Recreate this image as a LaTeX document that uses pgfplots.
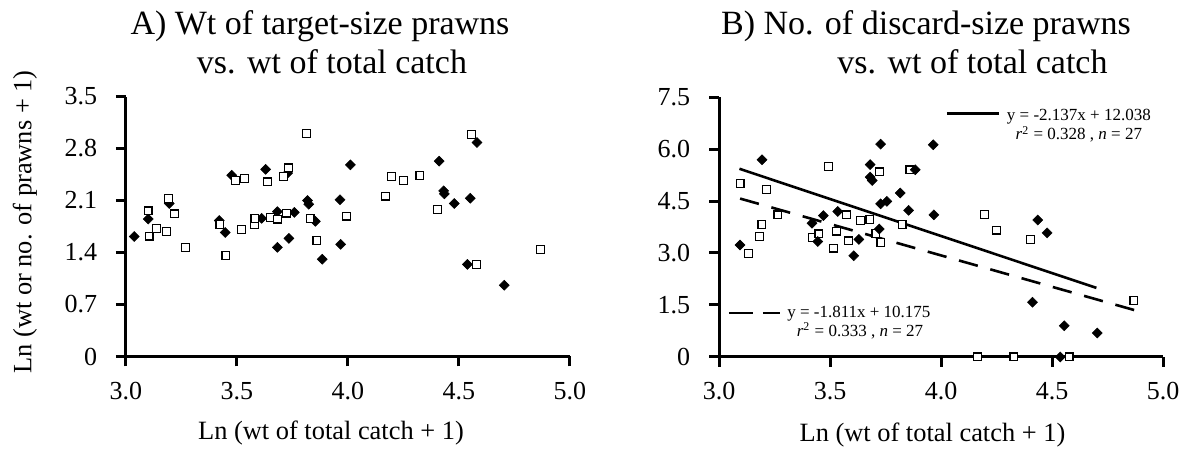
\documentclass[border=0pt]{standalone}
\usepackage{fontspec}
\setmainfont{Liberation Serif}
\usepackage{pgfplots}
\usepackage{pgfplotstable}
\pgfplotsset{compat=1.18}

% A) weight of target-size prawns vs. ln(total catch + 1)
\pgfplotstableread{
x y
3.037 1.615
3.100 1.85
3.195 2.06
3.420 1.83
3.447 1.67
3.476 2.44
3.611 1.86
3.629 2.52
3.682 1.95
3.682 1.47
3.728 2.47
3.734 1.59
3.758 1.94
3.818 2.10
3.823 2.05
3.853 1.82
3.884 1.31
3.964 2.11
3.967 1.51
4.011 2.58
4.411 2.63
4.431 2.23
4.434 2.19
4.479 2.06
4.538 1.24
4.551 2.13
4.581 2.88
4.704 0.96
}\Adiamond
\pgfplotstableread{
x y
3.100 1.96
3.104 1.62
3.138 1.72
3.183 1.68
3.192 2.13
3.218 1.92
3.267 1.47
3.423 1.78
3.450 1.36
3.492 2.37
3.521 1.71
3.533 2.40
3.578 1.78
3.581 1.86
3.637 2.35
3.650 1.87
3.683 1.85
3.710 2.42
3.724 1.93
3.731 2.54
3.814 3.00
3.829 1.86
3.860 1.56
3.994 1.89
4.170 2.16
4.197 2.42
4.249 2.37
4.324 2.44
4.402 1.98
4.557 2.99
4.578 1.24
4.866 1.44
}\Asquare

% B) number of discard-size prawns vs. ln(total catch + 1)
\pgfplotstableread{
x y
3.095 3.23
3.194 5.69
3.419 3.86
3.445 3.33
3.470 4.08
3.535 4.20
3.607 2.92
3.630 3.39
3.681 5.55
3.681 5.19
3.690 5.09
3.722 3.69
3.728 6.14
3.728 4.42
3.756 4.49
3.816 4.73
3.854 4.23
3.884 5.40
3.965 6.12
3.968 4.10
4.412 1.58
4.436 3.95
4.478 3.58
4.537 0.00
4.555 0.90
4.704 0.69
}\Bdiamond
\pgfplotstableread{
x y
3.095 5.01
3.134 2.98
3.182 3.47
3.193 3.83
3.215 4.83
3.265 4.10
3.421 3.45
3.450 3.55
3.492 5.49
3.517 3.14
3.529 3.63
3.574 4.10
3.582 3.35
3.637 3.94
3.680 3.96
3.707 3.56
3.722 5.34
3.729 3.31
3.825 3.82
3.860 5.40
4.165 0.00
4.197 4.11
4.249 3.66
4.328 0.00
4.403 3.39
4.577 0.00
4.869 1.63
}\Bsquare

\pgfplotsset{
  prawnaxis/.style={
    scale only axis, width=222pt, height=130pt,
    xmin=3, xmax=5, ymin=0,
    axis x line=bottom, axis y line=left,
    axis line style={-, line width=1.5pt},
    every tick/.style={black, line width=1.5pt},
    tick align=outside, major tick length=5pt,
    xtick={3,3.5,4,4.5,5}, xticklabels={3.0,3.5,4.0,4.5,5.0},
    ticklabel style={font=\fontsize{13}{15}\selectfont, inner sep=0pt},
    xticklabel style={anchor=base, yshift=-16.5pt},
    yticklabel style={anchor=east, xshift=-9.25pt},
    clip=false,
  },
  dmark/.style={only marks, mark=square*, mark size=1.75pt,
    mark options={rotate=45, fill=black, draw=black, line width=0.3pt}},
  smark/.style={only marks, mark=square*, mark size=1.95pt,
    mark options={fill=white, draw=black, line width=0.6pt}},
}

\begin{document}
\begin{tikzpicture}
\path[use as bounding box] (-63pt,-51.25pt) rectangle (531.5pt,178.25pt);

\begin{axis}[prawnaxis, at={(0pt,0pt)}, anchor=south west,
    ymax=3.5, ytick={0,0.7,1.4,2.1,2.8,3.5},
    yticklabels={0,0.7,1.4,2.1,2.8,3.5}]
  \addplot[dmark] table {\Adiamond};
  \addplot[smark] table {\Asquare};
\end{axis}

\begin{axis}[prawnaxis, at={(296.5pt,-0.25pt)}, anchor=south west,
    ymax=7.5, ytick={0,1.5,3,4.5,6,7.5},
    yticklabels={0,1.5,3.0,4.5,6.0,7.5}]
  \addplot[smark] table {\Bsquare};
  \addplot[dmark] table {\Bdiamond};
  % fitted lines: y = -2.137x + 12.038 and y = -1.811x + 10.175
  \addplot[black, line width=1.3pt] coordinates {(3.092,5.430) (4.700,1.994)};
  \addplot[black, line width=1.3pt, dash pattern=on 9.75pt off 6.5pt]
    coordinates {(3.095,4.570) (4.870,1.355)};
  \draw[black, line width=1.3pt] (axis cs:4.027,7.02) -- (axis cs:4.260,7.02);
  \draw[black, line width=1.3pt, dash pattern=on 12pt off 5pt on 9pt off 5pt]
    (axis cs:3.045,1.27) -- (axis cs:3.275,1.27);
  \begin{scope}[every node/.style={anchor=base, inner sep=0pt,
      font=\fontsize{8.5}{10}\selectfont}]
    \node at (axis cs:4.621,6.824) {y = -2.137x + 12.038};
    \node at (axis cs:4.621,6.268) {\textit{r}\textsuperscript{2} = 0.328 , \textit{n} = 27};
    \node at (axis cs:3.630,1.125) {y = -1.811x + 10.175};
    \node at (axis cs:3.635,0.594) {\textit{r}\textsuperscript{2} = 0.333 , \textit{n} = 27};
  \end{scope}
\end{axis}

\begin{scope}[every node/.style={anchor=base, inner sep=0pt}]
  \node[font=\fontsize{17}{20}\selectfont] at (97pt,160.75pt) {A) Wt of target-size prawns};
  \node[font=\fontsize{17}{20}\selectfont] at (103pt,141.25pt) {vs. wt of total catch};
  \node[font=\fontsize{17}{20}\selectfont] at (400pt,160.75pt) {B) No. of discard-size prawns};
  \node[font=\fontsize{17}{20}\selectfont] at (423.25pt,141.25pt) {vs. wt of total catch};
  \node[font=\fontsize{13.2}{15}\selectfont] at (102.5pt,-41.75pt) {Ln (wt of total catch + 1)};
  \node[font=\fontsize{13.2}{15}\selectfont] at (403.25pt,-42.5pt) {Ln (wt of total catch + 1)};
\end{scope}
\node[rotate=90, inner sep=0pt, font=\fontsize{13.2}{15}\selectfont] at (-50.5pt,67.25pt)
  {Ln (wt or no. of prawns + 1)};
\end{tikzpicture}
\end{document}
